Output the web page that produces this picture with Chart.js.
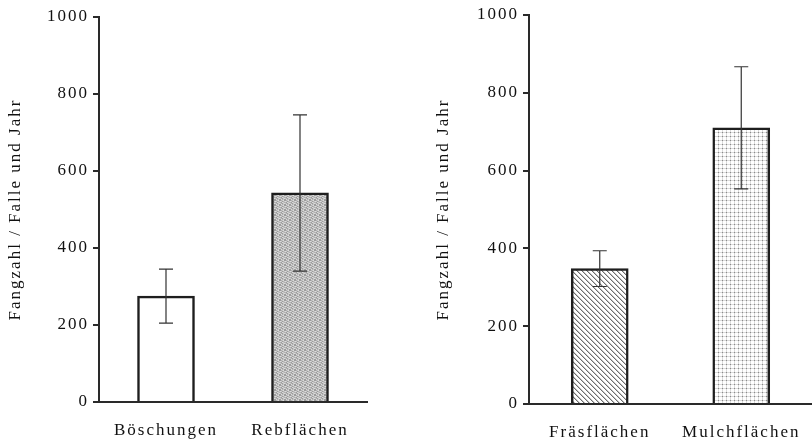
<!DOCTYPE html>
<html>
<head>
<meta charset="utf-8">
<script src="https://cdn.jsdelivr.net/npm/chart.js@4.4.1/dist/chart.umd.min.js"></script>
<style>
  html, body { margin: 0; padding: 0; background: #fff; overflow: hidden; }
  .panel { position: absolute; top: 0; width: 406px; height: 443px; }
  #left { left: 0; }
  #right { left: 406px; }
</style>
</head>
<body>
<div class="panel" id="left"><canvas id="chartLeft"></canvas></div>
<div class="panel" id="right"><canvas id="chartRight"></canvas></div>
<script>
// Fangzahlen je Falle und Jahr (Mittelwert +/- Streuung)
const leftLabels = ['Böschungen', 'Rebflächen'];
const leftMeans = [275, 543];
const leftErrors = [70, 203];

const rightLabels = ['Fräsflächen', 'Mulchflächen'];
const rightMeans = [348, 710];
const rightErrors = [46, 157];

const yTicks = [0, 200, 400, 600, 800, 1000];
const yTitle = 'Fangzahl / Falle und Jahr';

// --- fill patterns -------------------------------------------------------
function makeTile(w, h, paint) {
  const c = document.createElement('canvas');
  c.width = w; c.height = h;
  const g = c.getContext('2d');
  paint(g);
  return document.createElement('canvas').getContext('2d').createPattern(c, 'repeat');
}

// grey stipple, dots scattered so no diagonal forms
const stipple = makeTile(5, 5, g => {
  const rows = [
    'adbca',
    'cbadb',
    'dacbd',
    'bdabc',
    'acdba'
  ];
  const shade = { a: '#9c9c9c', b: '#c8c8c8', c: '#dcdcdc', d: '#b2b2b2' };
  rows.forEach((r, y) => [...r].forEach((k, x) => {
    g.fillStyle = shade[k];
    g.fillRect(x, y, 1, 1);
  }));
});

// diagonal hatching (top-left to bottom-right)
const hatch = makeTile(5, 5, g => {
  g.fillStyle = '#fff';
  g.fillRect(0, 0, 5, 5);
  for (let i = 0; i < 5; i++) {
    g.fillStyle = '#6e6e6e';
    g.fillRect(i, i, 1, 1);
    g.fillStyle = '#c4c4c4';
    g.fillRect((i + 1) % 5, i, 1, 1);
  }
});

// fine dotted grid
const grid = makeTile(4, 4, g => {
  g.fillStyle = '#fff';
  g.fillRect(0, 0, 4, 4);
  g.fillStyle = '#dadada';
  g.fillRect(0, 0, 4, 1);
  g.fillRect(0, 0, 1, 4);
  g.fillStyle = '#8a8a8a';
  g.fillRect(0, 0, 1, 1);
});

// --- plugins --------------------------------------------------------------
const spacing = {
  id: 'spacing',
  beforeLayout(chart) { chart.ctx.letterSpacing = '2px'; },
  beforeDraw(chart) { chart.ctx.letterSpacing = '2px'; }
};

const errorBars = {
  id: 'errorBars',
  afterDatasetsDraw(chart, args, opts) {
    const { ctx } = chart;
    const y = chart.scales.y;
    const meta = chart.getDatasetMeta(0);
    ctx.save();
    ctx.strokeStyle = '#333';
    ctx.lineWidth = 1.2;
    meta.data.forEach((bar, i) => {
      const m = chart.data.datasets[0].data[i];
      const e = opts.errors[i];
      const top = y.getPixelForValue(m + e);
      const bot = y.getPixelForValue(m - e);
      const half = 7;
      ctx.beginPath();
      ctx.moveTo(bar.x, top); ctx.lineTo(bar.x, bot);
      ctx.moveTo(bar.x - half, top); ctx.lineTo(bar.x + half, top);
      ctx.moveTo(bar.x - half, bot); ctx.lineTo(bar.x + half, bot);
      ctx.stroke();
    });
    ctx.restore();
  }
};

const font = { family: '"Liberation Serif", "Times New Roman", serif', size: 17 };

function buildChart(id, labels, means, errors, fills, box) {
  return new Chart(document.getElementById(id), {
    type: 'bar',
    data: {
      labels: labels,
      datasets: [{
        data: means,
        backgroundColor: fills,
        borderColor: '#1e1e1e',
        borderWidth: 2.5,
        borderSkipped: 'bottom',
        barThickness: 57
      }]
    },
    options: {
      responsive: true,
      maintainAspectRatio: false,
      animation: false,
      layout: { padding: { top: box.top, right: box.right, bottom: 0, left: 0 } },
      plugins: {
        legend: { display: false },
        tooltip: { enabled: false },
        errorBars: { errors: errors }
      },
      scales: {
        x: {
          grid: { display: false, drawTicks: false },
          border: { display: true, color: '#2a2a2a', width: 2 },
          ticks: { color: '#111', font: font, padding: 18, maxRotation: 0 },
          afterFit(s) {
            s.height = box.xh;
            s.paddingLeft = 0;
            s.paddingRight = 0;
          }
        },
        y: {
          min: 0,
          max: 1000,
          afterBuildTicks(s) { s.ticks = yTicks.map(v => ({ value: v })); },
          grid: { drawOnChartArea: false, drawTicks: true, tickLength: 6, color: '#2a2a2a', lineWidth: 2 },
          border: { display: true, color: '#2a2a2a', width: 2 },
          ticks: { color: '#111', font: font, padding: 4, callback: v => String(v) },
          title: {
            display: true,
            text: yTitle,
            color: '#111',
            font: font,
            padding: { top: box.titlePad, bottom: 0 }
          },
          afterFit(s) { s.width = box.yw; }
        }
      }
    },
    plugins: [spacing, errorBars]
  });
}

buildChart('chartLeft', leftLabels, leftMeans, leftErrors, ['#ffffff', stipple],
  { top: 17, right: 39, xh: 41, yw: 99, titlePad: 5 });
buildChart('chartRight', rightLabels, rightMeans, rightErrors, [hatch, grid],
  { top: 15, right: 0, xh: 39, yw: 123, titlePad: 27 });
</script>
</body>
</html>
